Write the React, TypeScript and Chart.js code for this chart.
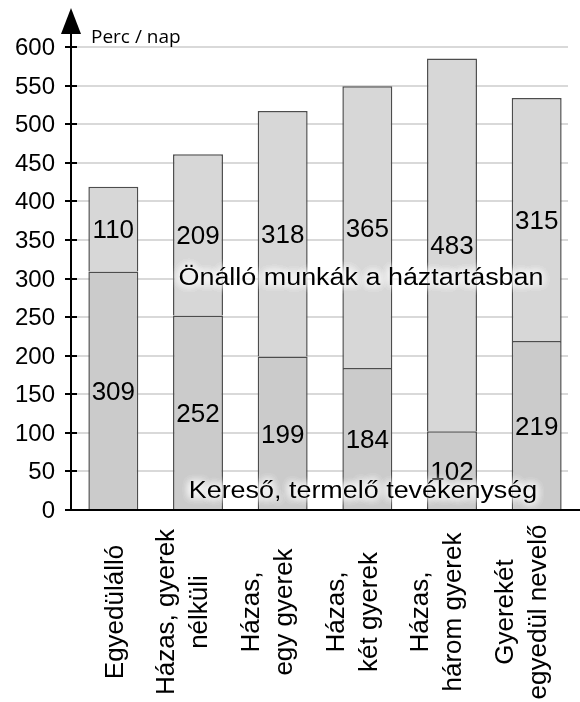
import { useEffect, useRef } from "react";
import { Chart, registerables } from "chart.js";

Chart.register(...registerables);

const categories: string[][] = [
  ["Egyedülálló"],
  ["Házas, gyerek", "nélküli"],
  ["Házas,", "egy gyerek"],
  ["Házas,", "két gyerek"],
  ["Házas,", "három gyerek"],
  ["Gyerekét", "egyedül nevelő"],
];
const keresoValues = [309, 252, 199, 184, 102, 219];
const onalloValues = [110, 209, 318, 365, 483, 315];
const keresoLabel = "Kereső, termelő tevékenység";
const onalloLabel = "Önálló munkák a háztartásban";
const yAxisTitle = "Perc / nap";
const yMin = 0;
const yMax = 600;
const yStep = 50;

const FONT = '"Liberation Sans", Arial, sans-serif';

const customPlugin = {
  id: "customDraw",
  beforeDatasetsDraw(chart: any) {
    const { ctx, chartArea, scales } = chart;
    const y = scales.y;
    ctx.save();
    ctx.strokeStyle = "#d9d9d9";
    ctx.lineWidth = 2;
    for (let v = yMin + yStep; v <= yMax; v += yStep) {
      const py = Math.round(y.getPixelForValue(v));
      ctx.beginPath();
      ctx.moveTo(chartArea.left, py);
      ctx.lineTo(chartArea.right - 11, py);
      ctx.stroke();
    }
    ctx.restore();
  },
  afterDatasetsDraw(chart: any) {
    const { ctx, chartArea, scales, width } = chart;
    const y = scales.y;
    const x = scales.x;
    ctx.save();

    // value labels
    const valueFont = 26;
    ctx.fillStyle = "#000";
    ctx.font = `${valueFont}px ${FONT}`;
    ctx.textAlign = "center";
    ctx.textBaseline = "alphabetic";
    chart.data.datasets.forEach((ds: any, di: number) => {
      const meta = chart.getDatasetMeta(di);
      meta.data.forEach((bar: any, i: number) => {
        const cy = (bar.y + bar.base) / 2;
        ctx.fillText(String(ds.data[i]), bar.x, cy + valueFont * 0.36);
      });
    });

    // annotation texts with white glow
    const drawGlow = (text: string, cx: number, baseline: number) => {
      ctx.save();
      ctx.translate(cx, baseline);
      ctx.scale(1.17, 1);
      ctx.font = `23px ${FONT}`;
      ctx.textAlign = "center";
      ctx.textBaseline = "alphabetic";
      ctx.shadowColor = "rgba(255,255,255,1)";
      ctx.shadowBlur = 10;
      ctx.fillStyle = "#fff";
      for (let k = 0; k < 4; k++) ctx.fillText(text, 0, 0);
      ctx.shadowBlur = 0;
      ctx.shadowColor = "rgba(0,0,0,0)";
      ctx.fillStyle = "#000";
      ctx.fillText(text, 0, 0);
      ctx.restore();
    };
    const midX = (chartArea.left + chartArea.right) / 2 + 36;
    drawGlow(onalloLabel, midX, y.getPixelForValue(291));
    drawGlow(keresoLabel, midX + 2, y.getPixelForValue(15));

    // axes
    const left = chartArea.left;
    const bottom = chartArea.bottom;
    ctx.strokeStyle = "#000";
    ctx.lineWidth = 2;
    ctx.beginPath();
    ctx.moveTo(left, bottom);
    ctx.lineTo(left, 30);
    ctx.moveTo(left - 1, bottom);
    ctx.lineTo(width, bottom);
    ctx.stroke();
    // arrow head
    ctx.fillStyle = "#000";
    ctx.beginPath();
    ctx.moveTo(left, 8);
    ctx.lineTo(left - 10, 34);
    ctx.lineTo(left + 10, 34);
    ctx.closePath();
    ctx.fill();
    // y tick marks and labels
    ctx.font = `24px ${FONT}`;
    ctx.textAlign = "right";
    ctx.textBaseline = "middle";
    y.ticks.forEach((t: any) => {
      const py = Math.round(y.getPixelForValue(t.value));
      ctx.beginPath();
      ctx.moveTo(left - 6, py);
      ctx.lineTo(left + 6, py);
      ctx.stroke();
      ctx.fillText(String(t.value), left - 16, py + 1);
    });

    // x labels (rotated, multi-line)
    ctx.font = `26px ${FONT}`;
    ctx.textAlign = "center";
    ctx.textBaseline = "middle";
    ctx.fillStyle = "#000";
    const lineH = 33;
    categories.forEach((lines, i) => {
      const cx = x.getPixelForValue(i);
      const n = lines.length;
      lines.forEach((line, j) => {
        ctx.save();
        ctx.translate(cx + (j - (n - 1)) * lineH + 2, 612);
        ctx.rotate(-Math.PI / 2);
        ctx.fillText(line, 0, 0);
        ctx.restore();
      });
    });

    // y axis title
    ctx.font = '19px "Open Sans", sans-serif';
    ctx.textAlign = "left";
    ctx.textBaseline = "alphabetic";
    ctx.fillText(yAxisTitle, left + 20, 43);

    ctx.restore();
  },
};

export default function App() {
  const canvasRef = useRef<HTMLCanvasElement | null>(null);

  useEffect(() => {
    if (!canvasRef.current) return;
    const chart = new Chart(canvasRef.current, {
      type: "bar",
      data: {
        labels: categories,
        datasets: [
          {
            label: keresoLabel,
            data: keresoValues,
            backgroundColor: "#cbcbcb",
            borderColor: "#4d4d4d",
            borderWidth: 1.5,
            categoryPercentage: 1,
            barPercentage: 0.59,
          },
          {
            label: onalloLabel,
            data: onalloValues,
            backgroundColor: "#d7d7d7",
            borderColor: "#4d4d4d",
            borderWidth: 1.5,
            categoryPercentage: 1,
            barPercentage: 0.59,
          },
        ],
      },
      options: {
        animation: false,
        responsive: false,
        devicePixelRatio: 1,
        layout: { padding: { top: 47, right: 1, left: 0, bottom: 0 }, autoPadding: false },
        plugins: {
          legend: { display: false },
          tooltip: { enabled: false },
          title: { display: false },
        },
        scales: {
          x: {
            stacked: true,
            grid: { display: false, drawTicks: false },
            border: { display: false },
            ticks: { display: false },
            afterFit: (scale: any) => {
              scale.height = 192;
              scale.paddingLeft = 0;
              scale.paddingRight = 0;
            },
          },
          y: {
            stacked: true,
            min: yMin,
            max: yMax,
            grid: { display: false, drawTicks: false },
            border: { display: false },
            ticks: { stepSize: yStep, display: false },
            afterFit: (scale: any) => {
              scale.width = 71;
              scale.paddingTop = 0;
              scale.paddingBottom = 0;
            },
          },
        },
      },
      plugins: [customPlugin],
    });
    return () => chart.destroy();
  }, []);

  return (
    <canvas
      ref={canvasRef}
      width={580}
      height={702}
      style={{ position: "fixed", left: 0, top: 0, width: 580, height: 702 }}
    />
  );
}
